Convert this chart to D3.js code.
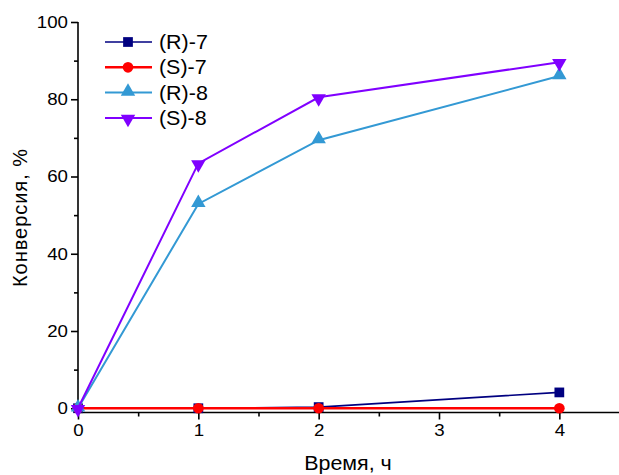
<!DOCTYPE html>
<html><head><meta charset="utf-8">
<script src="https://cdn.jsdelivr.net/npm/d3@7"></script>
<style>body{margin:0;background:#fff}svg{display:block}text{font-family:"Liberation Sans",Arial,sans-serif;fill:#000}</style>
</head><body>
<svg id="c" width="619" height="475"></svg>
<script>
const times = [0, 1, 2, 4];
const seriesNames = ["(R)-7", "(S)-7", "(R)-8", "(S)-8"];
const r7 = [0, 0, 0.3, 4.1];
const s7 = [0, 0, 0, 0];
const r8 = [0, 52.9, 69.4, 86.0];
const s8 = [0, 63.4, 80.5, 89.6];
const xTicks = [0, 1, 2, 3, 4];
const yTicks = [0, 20, 40, 60, 80, 100];
const xLabel = "Время, ч";
const yLabel = "Конверсия,  %";

const colors = ["#000080", "#ff0000", "#3399d4", "#8000ff"];
const symbols = [d3.symbolSquare, d3.symbolCircle, d3.symbolTriangle, d3.symbolTriangle];
const symSize = [95, 90, 90, 90];
const rot = [0, 0, 0, 180];
const widths = [1.6, 2.4, 2, 2];
const data = [r7, s7, r8, s8];
const SX = 1.1; // horizontal text stretch seen in the reference

const svg = d3.select("#c");
const x = d3.scaleLinear().domain([0, 4.5]).range([78, 619.5]);
const y = d3.scaleLinear().domain([-1.1, 100]).range([412.5, 22]);

function stretch(sel, x0, y0) {
  sel.attr("transform", `translate(${x0},${y0}) scale(${SX},1) translate(${-x0},${-y0})`);
}

// axes
const xa = svg.append("g").attr("transform", "translate(0,412.5)")
  .call(d3.axisBottom(x).tickValues(xTicks).tickSize(7).tickPadding(4).tickFormat(d3.format("d")));
svg.append("g").attr("transform", "translate(0,412.5)")
  .call(d3.axisBottom(x).tickValues([0.5, 1.5, 2.5, 3.5]).tickSize(4).tickFormat(""))
  .select(".domain").remove();
const ya = svg.append("g").attr("transform", "translate(78,0)")
  .call(d3.axisLeft(y).tickValues(yTicks).tickSize(7).tickPadding(3));
svg.append("g").attr("transform", "translate(78,0)")
  .call(d3.axisLeft(y).tickValues([10, 30, 50, 70, 90]).tickSize(4).tickFormat(""))
  .select(".domain").remove();
svg.selectAll(".tick line, .domain").attr("stroke", "#000").attr("stroke-width", 1.6);
xa.select(".domain").attr("d", `M78,0H619`);
ya.select(".domain").attr("d", `M0,${y(-1.1)}V${y(100)}`);
svg.selectAll(".tick text").style("font-size", "17px").style("font-family", '"Liberation Sans",Arial,sans-serif').attr("fill", "#000");
xa.selectAll(".tick text").attr("transform", `scale(${SX},1)`);
ya.selectAll(".tick text").each(function(){ stretch(d3.select(this), -10, 0); });

// series
const line = d3.line().x((d, i) => x(times[i])).y(d => y(d));
data.forEach((vals, k) => {
  const g = svg.append("g");
  g.append("path").attr("d", line(vals)).attr("fill", "none")
    .attr("stroke", colors[k]).attr("stroke-width", widths[k]);
  g.selectAll("path.m").data(vals).join("path").attr("class", "m")
    .attr("d", d3.symbol().type(symbols[k]).size(symSize[k]))
    .attr("transform", (d, i) => `translate(${x(times[i])},${y(d) + (k===2?-1:k===3?1:0)}) rotate(${rot[k]})`)
    .attr("fill", colors[k]);
});

// legend
const leg = svg.append("g");
seriesNames.forEach((n, k) => {
  const yy = 42 + k * 25.3;
  leg.append("line").attr("x1", 105).attr("x2", 152).attr("y1", yy).attr("y2", yy)
    .attr("stroke", colors[k]).attr("stroke-width", widths[k]);
  leg.append("path").attr("d", d3.symbol().type(symbols[k]).size(symSize[k]))
    .attr("transform", `translate(128,${yy + (k===2?-1:k===3?1:0)}) rotate(${rot[k]})`).attr("fill", colors[k]);
  const t = leg.append("text").attr("x", 159).attr("y", yy).attr("dy", "0.36em")
    .style("font-size", "19.5px").text(n);
  stretch(t, 159, yy);
});

// axis titles
const xt = svg.append("text").attr("x", 348).attr("y", 470).attr("text-anchor", "middle")
  .style("font-size", "19.5px").text(xLabel);
stretch(xt, 348, 470);
svg.append("text").attr("transform", "translate(27,218) rotate(-90)").attr("text-anchor", "middle")
  .attr("textLength", 138).attr("lengthAdjust", "spacing")
  .style("font-size", "20px").text(yLabel);
</script>
</body></html>
